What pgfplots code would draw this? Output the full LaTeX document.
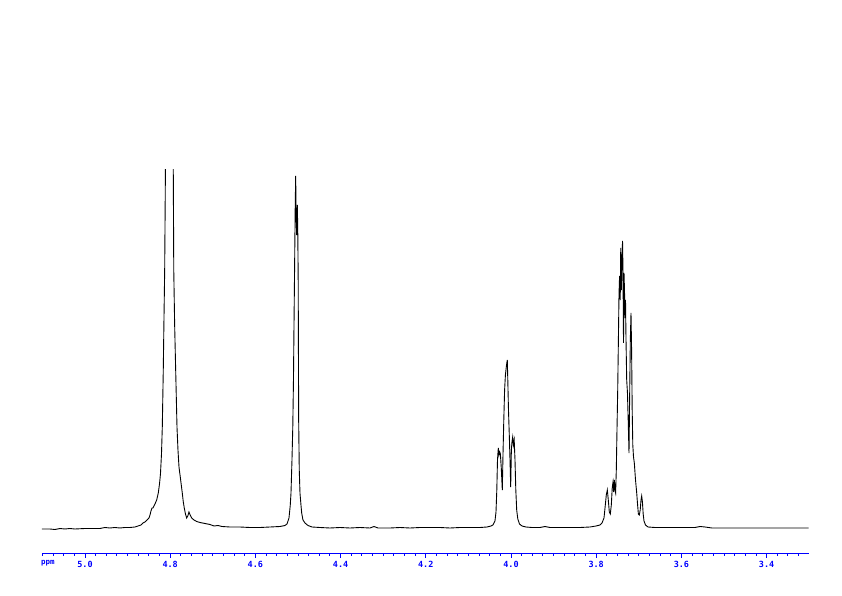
\documentclass[border=0pt]{standalone}
\usepackage{fontspec}
\setmainfont{DejaVu Sans Mono}
\usepackage{pgfplots}
\pgfplotsset{compat=1.18}
\definecolor{axblue}{RGB}{0,0,255}
\begin{document}
\begin{tikzpicture}
\path[use as bounding box] (0,0) rectangle (842bp,596bp);
\begin{axis}[
  at={(42bp,43bp)}, anchor=south west,
  scale only axis, width=766.7bp, height=383bp,
  x dir=reverse,
  xmin=3.3012, xmax=5.1009,
  ymin=-23, ymax=360,
  axis y line=none,
  axis x line*=bottom,
  x axis line style={axblue, line width=0.9pt, -},
  xtick={3.4,3.6,3.8,4.0,4.2,4.4,4.6,4.8,5.0},
  minor xtick={3.325,3.35,3.375,3.425,3.45,3.475,3.5,3.525,3.55,3.575,3.625,3.65,3.675,3.7,3.725,3.75,3.775,3.825,3.85,3.875,3.9,3.925,3.95,3.975,4.025,4.05,4.075,4.1,4.125,4.15,4.175,4.225,4.25,4.275,4.3,4.325,4.35,4.375,4.425,4.45,4.475,4.5,4.525,4.55,4.575,4.625,4.65,4.675,4.7,4.725,4.75,4.775,4.825,4.85,4.875,4.9,4.925,4.95,4.975,5.025,5.05,5.075,5.1},
  tick align=outside,
  major tick length=4.5bp, minor tick length=2.5bp,
  every tick/.style={axblue, line width=0.9pt},
  xticklabel style={axblue, font=\fontsize{8.5}{9}\selectfont\bfseries},
  /pgf/number format/.cd, fixed, fixed zerofill, precision=1, assume math mode=true,
  /pgfplots/.cd,
  xlabel={ppm},
  xlabel style={at={(axis description cs:0,0)}, anchor=north west, axblue, font=\fontsize{7.5}{8}\selectfont\bfseries, yshift=-7bp, xshift=-1bp, inner sep=0pt},
]
\addplot[black, line width=0.9pt] coordinates {
(5.1009,1) (5.0822,1) (5.0704,0.5) (5.0587,1.5) (5.0469,1) (5.0352,1.5) (5.0235,1) (5.0000,1.5)
(4.9648,1.5) (4.9531,2.5) (4.9413,2) (4.9296,2.5) (4.9178,2) (4.9061,2.5) (4.8944,2.5) (4.8826,3)
(4.8756,4) (4.8685,5) (4.8638,7) (4.8592,8) (4.8545,10) (4.8498,12) (4.8474,15) (4.8451,19)
(4.8427,22) (4.8404,22) (4.8380,24) (4.8357,26) (4.8317,30) (4.8279,37) (4.8251,46) (4.8228,56)
(4.8204,76) (4.8185,103) (4.8162,160) (4.8146,210) (4.8129,260) (4.8115,340) (4.8106,420)
(4.8083,600) (4.8016,900) (4.7946,600)
(4.7934,420) (4.7925,340) (4.7916,260) (4.7895,205) (4.7871,160) (4.7840,103) (4.7817,80)
(4.7793,63) (4.7754,50) (4.7716,37) (4.7692,28) (4.7669,22) (4.7641,16) (4.7613,12) (4.7587,14)
(4.7559,18) (4.7531,15) (4.7496,12) (4.7441,10) (4.7378,8.5) (4.7300,7.5) (4.7183,6.5) (4.7066,5.5)
(4.6972,4) (4.6878,4.5) (4.6784,3.5) (4.6596,3) (4.6362,3) (4.6127,2.5) (4.5892,2.5) (4.5657,3)
(4.5423,3.5) (4.5305,4.5) (4.5258,6) (4.5211,12) (4.5181,25) (4.5164,37) (4.5141,70) (4.5122,103)
(4.5106,150) (4.5094,203) (4.5080,260) (4.5066,320) (4.5054,354) (4.5042,310) (4.5031,295)
(4.5016,325) (4.5005,300) (4.4995,250) (4.4984,110) (4.4970,60) (4.4953,37) (4.4930,25) (4.4913,17)
(4.4883,10) (4.4836,7) (4.4765,4.5) (4.4671,3) (4.4484,2.5) (4.4249,2) (4.4014,2.5) (4.3779,2)
(4.3545,2.5) (4.3310,2) (4.3216,3.5) (4.3122,2) (4.2840,2) (4.2606,2.5) (4.2371,2) (4.2136,2.5)
(4.1901,2.5) (4.1667,2.5) (4.1432,2) (4.1197,2.5) (4.0962,2.5) (4.0728,2.5) (4.0563,3) (4.0469,4)
(4.0423,5) (4.0376,9) (4.0352,18) (4.0333,40) (4.0317,70) (4.0298,82) (4.0282,75) (4.0265,78)
(4.0249,76) (4.0228,62) (4.0204,40) (4.0188,75) (4.0169,110) (4.0150,140) (4.0131,155) (4.0105,165)
(4.0087,170) (4.0075,150) (4.0059,120) (4.0040,95) (4.0023,70) (4.0007,43) (3.9991,80) (3.9977,88)
(3.9960,93) (3.9944,85) (3.9925,90) (3.9906,70) (3.9887,40) (3.9866,20) (3.9840,11) (3.9800,6)
(3.9742,4) (3.9648,3) (3.9507,2.5) (3.9319,2.5) (3.9202,3.5) (3.9085,2.5) (3.8850,2.5) (3.8615,2.5)
(3.8380,2.5) (3.8146,3) (3.8005,4) (3.7911,5) (3.7864,7) (3.7817,12) (3.7793,22) (3.7763,35)
(3.7739,40) (3.7716,30) (3.7692,18) (3.7669,16) (3.7645,25) (3.7624,42) (3.7605,48) (3.7589,38)
(3.7575,50) (3.7559,40) (3.7544,37) (3.7528,60) (3.7512,100) (3.7495,140) (3.7479,190) (3.7465,235)
(3.7451,254) (3.7436,230) (3.7424,282) (3.7410,240) (3.7396,265) (3.7382,289) (3.7371,260)
(3.7359,187) (3.7347,257) (3.7336,240) (3.7324,212) (3.7312,230) (3.7300,190) (3.7284,150)
(3.7267,138) (3.7249,110) (3.7230,77) (3.7213,140) (3.7199,190) (3.7183,217) (3.7169,180)
(3.7155,120) (3.7141,85) (3.7124,73) (3.7105,67) (3.7077,50) (3.7049,37) (3.7028,25) (3.7010,16)
(3.6988,15) (3.6967,20) (3.6948,30) (3.6932,34) (3.6915,28) (3.6897,16) (3.6878,9) (3.6843,5)
(3.6784,3) (3.6620,2.5) (3.6385,2.5) (3.6033,2.5) (3.5681,2.5) (3.5563,3.5) (3.5446,3) (3.5282,2)
(3.4977,2) (3.4624,2) (3.4155,2) (3.3685,2) (3.3216,2) (3.3012,2)
};
\end{axis}
\end{tikzpicture}
\end{document}
